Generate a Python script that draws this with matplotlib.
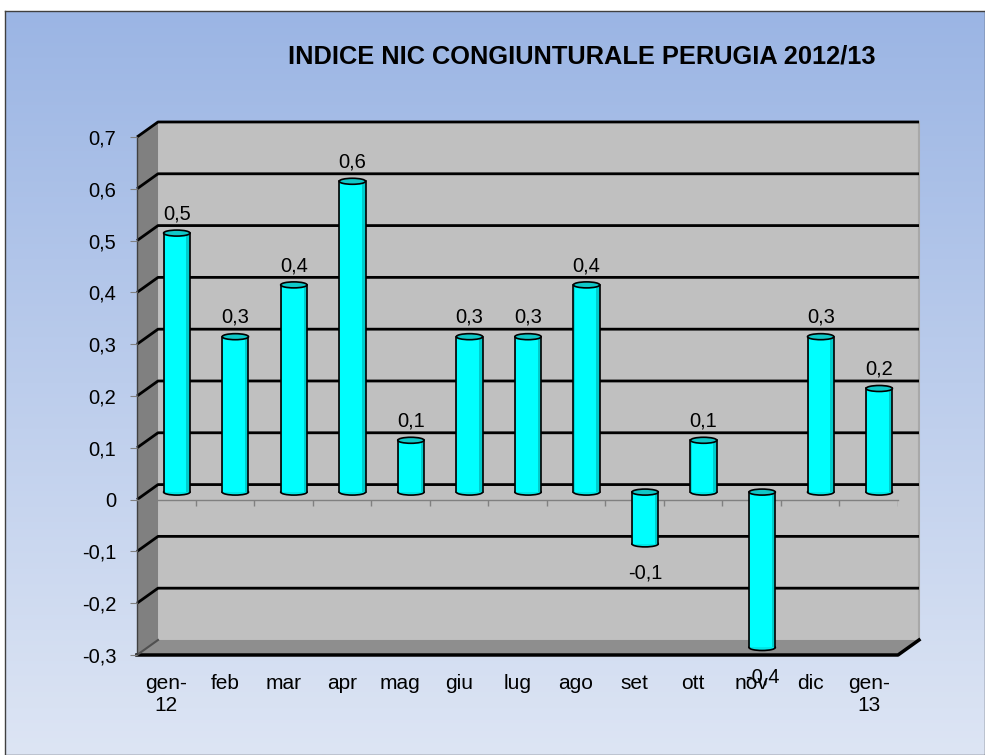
import matplotlib.pyplot as plt
import numpy as np
from matplotlib.patches import Polygon, Ellipse, Rectangle
from matplotlib.colors import LinearSegmentedColormap

plt.rcParams['font.family'] = ['Liberation Sans', 'DejaVu Sans']

# dati
months = ['gen-\n12', 'feb', 'mar', 'apr', 'mag', 'giu', 'lug', 'ago',
          'set', 'ott', 'nov', 'dic', 'gen-\n13']
values = [0.5, 0.3, 0.4, 0.6, 0.1, 0.3, 0.3, 0.4, -0.1, 0.1, -0.4, 0.3, 0.2]
value_labels = ['0,5', '0,3', '0,4', '0,6', '0,1', '0,3', '0,3', '0,4',
                '-0,1', '0,1', '-0,4', '0,3', '0,2']
yticks = [-0.3, -0.2, -0.1, 0, 0.1, 0.2, 0.3, 0.4, 0.5, 0.6, 0.7]
ytick_labels = ['-0,3', '-0,2', '-0,1', '0', '0,1', '0,2', '0,3', '0,4',
                '0,5', '0,6', '0,7']
title = 'INDICE NIC CONGIUNTURALE PERUGIA 2012/13'

W, H = 985, 755
fig = plt.figure(figsize=(W / 100, H / 100), dpi=100)
fig.patch.set_facecolor('white')

# sfondo sfumato
bg = fig.add_axes([5 / W, 0, 1 - 5 / W, 744 / H])
cmap = LinearSegmentedColormap.from_list('bg', ['#9bb5e4', '#dde5f4'])
bg.imshow(np.linspace(0, 1, 256)[:, None], aspect='auto', cmap=cmap,
          extent=[0, 1, 0, 1])
bg.set_xticks([])
bg.set_yticks([])
for s in bg.spines.values():
    s.set_color('#404040')
    s.set_linewidth(1)

ax = fig.add_axes([137 / W, 100 / H, 761 / W, 518 / H])
ax.set_xlim(0, 13)
ax.set_ylim(-0.3, 0.7)
ax.patch.set_alpha(0)
for s in ax.spines.values():
    s.set_visible(False)

n = len(months)
ymin, ymax = yticks[0], yticks[-1]
DX, DY = 0.359, 0.029   # profondita' 3D

# pareti
ax.add_patch(Polygon([(DX, ymin + DY), (n + DX, ymin + DY), (n + DX, ymax + DY), (DX, ymax + DY)],
                     closed=True, fc='#c0c0c0', ec='none', zorder=0, clip_on=False))
ax.add_patch(Polygon([(0, ymin), (DX, ymin + DY), (DX, ymax + DY), (0, ymax)],
                     closed=True, fc='#808080', ec='none', zorder=0, clip_on=False))
ax.add_patch(Polygon([(0, ymin), (n, ymin), (n + DX, ymin + DY), (DX, ymin + DY)],
                     closed=True, fc='#8e8e8e', ec='none', zorder=0, clip_on=False))
ax.plot([n + DX, n + DX], [ymin + DY, ymax + DY], color='#a8a8a8', lw=1.5, zorder=1, clip_on=False)

# griglia
for y in yticks[1:]:
    ax.plot([0, DX, n + DX], [y, y + DY, y + DY], color='black', lw=2, zorder=1,
            clip_on=False, solid_capstyle='butt')
ax.plot([0, n, n + DX], [ymin, ymin, ymin + DY], color='black', lw=2.5, zorder=1, clip_on=False)
ax.plot([0, DX], [ymin, ymin + DY], color='#505050', lw=1.5, zorder=1, clip_on=False)
ax.plot([0, 0], [ymin, ymax], color='#404040', lw=1, zorder=1, clip_on=False)

# asse dello zero
ax.plot([0, n], [0, 0], color='#808080', lw=1, zorder=2, clip_on=False)
ax.vlines(np.arange(1, n + 1), -0.012, 0, color='#808080', lw=1, zorder=2)

# cilindri
w, eh = 0.45, 0.0116
for i, v in enumerate(values):
    cx = i + 0.5 + DX / 2
    top = max(v, 0) + DY / 2
    bot = max(min(v, 0), ymin) + DY / 2
    ax.add_patch(Ellipse((cx, bot), w, eh, fc='#00e8e8', ec='black', lw=1.2, zorder=3))
    ax.add_patch(Rectangle((cx - w / 2, bot), w, top - bot, fc='#00ffff', ec='none', zorder=4))
    ax.add_patch(Rectangle((cx + w / 2 - 0.06, bot), 0.06, top - bot, fc='#00cccc', ec='none', zorder=4))
    ax.add_patch(Rectangle((cx - w / 2, bot), 0.02, top - bot, fc='#00d8d8', ec='none', zorder=4))
    ax.plot([cx - w / 2, cx - w / 2], [bot, top], color='black', lw=1.2, zorder=5)
    ax.plot([cx + w / 2, cx + w / 2], [bot, top], color='black', lw=1.2, zorder=5)
    ax.add_patch(Ellipse((cx, top), w, eh, fc='#10c8c8', ec='black', lw=1.2, zorder=6))
    if v >= 0:
        ax.annotate(value_labels[i], (cx, top), xytext=(0, 10), textcoords='offset points',
                    ha='center', va='baseline', fontsize=14.5, zorder=7)
    else:
        ax.annotate(value_labels[i], (cx, bot), xytext=(0, -25), textcoords='offset points',
                    ha='center', va='baseline', fontsize=14.5, zorder=7, annotation_clip=False)

ax.set_yticks(yticks)
ax.set_yticklabels(ytick_labels, fontsize=14.5)
ax.tick_params(axis='y', length=5, color='#808080', pad=10)
ax.set_xticks(np.arange(n) + 0.5)
ax.set_xticklabels(months, fontsize=15)
ax.tick_params(axis='x', length=0, pad=14)

fig.text(582 / W, 1 - 56 / H, title, ha='center', va='center', fontsize=18.3, fontweight='bold')

fig.savefig('out.png', dpi=100, facecolor='white')
